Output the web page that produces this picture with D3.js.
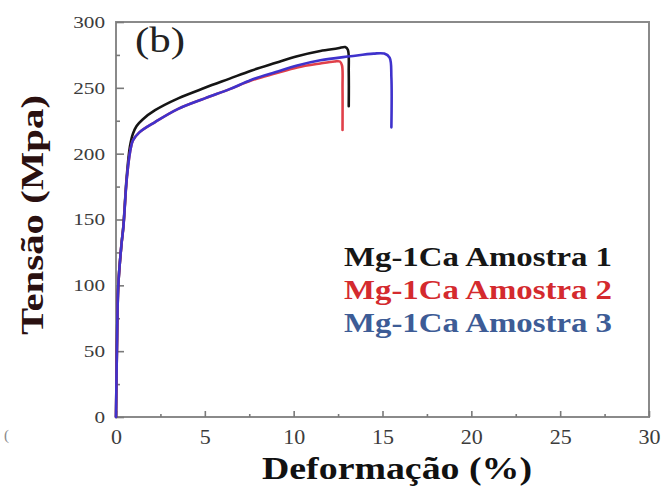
<!DOCTYPE html>
<html>
<head>
<meta charset="utf-8">
<script src="https://cdn.jsdelivr.net/npm/d3@7/dist/d3.min.js"></script>
<style>
  html, body { margin: 0; padding: 0; background: #fff; }
  svg { display: block; }
</style>
</head>
<body>
<svg id="chart" width="664" height="500"></svg>
<script>
// Tensile curves of three Mg-1Ca samples: strain (%) vs stress (MPa)
const strain1 = [0, 0.05, 0.13, 0.3, 0.42, 0.6, 0.78, 0.95, 1.16, 1.5, 2.2, 3.5, 5, 6.4, 7.6, 9, 10.2, 11.5, 12.5, 12.9, 13.05, 13.1, 13.1];
const stress1 = [0, 50, 100, 130, 146, 182, 205, 215, 221, 226, 233, 242, 250, 257, 263, 269, 274, 278, 280, 281, 279, 262, 236];

const strain2 = [0, 0.05, 0.13, 0.3, 0.42, 0.6, 0.8, 0.95, 1.3, 2.2, 3.5, 5, 6.4, 7.6, 9, 10.2, 11.5, 12.3, 12.6, 12.72, 12.75, 12.75];
const stress2 = [0, 50, 100, 130, 145, 180, 202, 210, 216, 224, 234, 242, 249, 255.5, 261, 265.5, 268.5, 270, 270, 267, 250, 218];

const strain3 = [0, 0.05, 0.13, 0.3, 0.42, 0.6, 0.8, 0.95, 1.3, 2.2, 3.5, 5, 6.4, 7.6, 9, 10.2, 11.5, 13.2, 14.5, 15.1, 15.4, 15.5, 15.5];
const stress3 = [0, 50, 100, 130, 145, 180, 202, 210, 216, 224, 234, 242, 249, 256, 262, 267, 271, 274, 276, 276, 273, 258, 220];

const seriesNames = ["Mg-1Ca Amostra 1", "Mg-1Ca Amostra 2", "Mg-1Ca Amostra 3"];
const lineColors = ["#151515", "#e0404a", "#3f32cc"];
const legendColors = ["#161616", "#d42a2e", "#3d5c96"];

const xTicks = [0, 5, 10, 15, 20, 25, 30];
const xMinorTicks = [2.5, 7.5, 12.5, 17.5, 22.5, 27.5];
const yTicks = [0, 50, 100, 150, 200, 250, 300];
const yMinorTicks = [25, 75, 125, 175, 225, 275];

// pick a Times-metric serif face that is actually installed
function pickSerif() {
  const ctx = document.createElement("canvas").getContext("2d");
  const probe = "Mg-1Ca Amostra Deformação 0123456789";
  const widthOf = f => { ctx.font = "40px " + f; return ctx.measureText(probe).width; };
  const candidates = ["Liberation Serif", "Times New Roman", "Tinos", "Times", "Nimbus Roman", "FreeSerif"];
  for (const c of candidates) {
    const w = widthOf(`"${c}", monospace`);
    if (Math.abs(w - widthOf("monospace")) > 1) return `"${c}", serif`;
  }
  return "serif";
}
const serif = pickSerif();

const svg = d3.select("#chart").style("font-family", serif);
const plot = { left: 116, right: 649, top: 22, bottom: 417 };

const x = d3.scaleLinear().domain([0, 30]).range([plot.left, plot.right]);
const y = d3.scaleLinear().domain([0, 300]).range([plot.bottom, plot.top]);

const axisColor = "#7a7a7a";
const labelColor = "#3c3c3c";

// frame
svg.append("rect")
  .attr("x", plot.left).attr("y", plot.top)
  .attr("width", plot.right - plot.left).attr("height", plot.bottom - plot.top)
  .attr("fill", "none").attr("stroke", "#8a8a8a").attr("stroke-width", 2);

function styleAxis(g, size) {
  g.select(".domain").remove();
  g.selectAll(".tick line").attr("stroke", axisColor).attr("stroke-width", 1.6);
  g.selectAll(".tick text")
    .attr("fill", labelColor)
    .style("font-family", serif)
    .style("font-size", size + "px");
}

// y axis (ticks pointing inward), labels set a little wide
svg.append("g").attr("transform", `translate(${plot.left},0)`)
  .call(d3.axisLeft(y).tickValues(yTicks).tickSize(-8).tickPadding(11).tickFormat(d3.format("d")))
  .call(g => styleAxis(g, 17))
  .call(g => g.selectAll(".tick text")
    .attr("textLength", d => String(d).length * 10.6)
    .attr("lengthAdjust", "spacingAndGlyphs"));
svg.append("g").attr("transform", `translate(${plot.left},0)`)
  .call(d3.axisLeft(y).tickValues(yMinorTicks).tickSize(-4).tickFormat(""))
  .call(g => styleAxis(g, 17));

// x axis (ticks pointing inward)
svg.append("g").attr("transform", `translate(0,${plot.bottom})`)
  .call(d3.axisBottom(x).tickValues(xTicks).tickSize(-6).tickPadding(11).tickFormat(d3.format("d")))
  .call(g => styleAxis(g, 22));
svg.append("g").attr("transform", `translate(0,${plot.bottom})`)
  .call(d3.axisBottom(x).tickValues(xMinorTicks).tickSize(-3).tickFormat(""))
  .call(g => styleAxis(g, 22));

// curves
const line = d3.line()
  .x(d => x(d[0]))
  .y(d => y(d[1]))
  .curve(d3.curveCatmullRom.alpha(0.5));

const series = [
  d3.zip(strain1, stress1),
  d3.zip(strain2, stress2),
  d3.zip(strain3, stress3)
];
const drawOrder = [0, 1, 2];
svg.append("g").selectAll("path")
  .data(drawOrder)
  .join("path")
  .attr("d", i => line(series[i]))
  .attr("fill", "none")
  .attr("stroke", i => lineColors[i])
  .attr("stroke-width", 2.6)
  .attr("stroke-linejoin", "round")
  .attr("stroke-linecap", "round");

// panel tag
svg.append("text")
  .attr("x", 135).attr("y", 52)
  .attr("fill", "#222")
  .attr("textLength", 50)
  .attr("lengthAdjust", "spacingAndGlyphs")
  .style("font-size", "35px")
  .text("(b)");

// legend
svg.append("g").selectAll("text")
  .data(seriesNames)
  .join("text")
  .attr("x", 344)
  .attr("y", (d, i) => 266 + i * 33)
  .attr("fill", (d, i) => legendColors[i])
  .attr("font-weight", "bold")
  .attr("textLength", 268)
  .attr("lengthAdjust", "spacingAndGlyphs")
  .style("font-size", "27px")
  .text(d => d);

// axis titles
svg.append("text")
  .attr("x", 262).attr("y", 479)
  .attr("fill", "#111")
  .attr("font-weight", "bold")
  .attr("textLength", 270)
  .attr("lengthAdjust", "spacingAndGlyphs")
  .style("font-size", "32px")
  .text("Deformação (%)");

svg.append("text")
  .attr("transform", "translate(43,335) rotate(-90)")
  .attr("fill", "#2a1010")
  .attr("font-weight", "bold")
  .attr("textLength", 240)
  .attr("lengthAdjust", "spacingAndGlyphs")
  .style("font-size", "32px")
  .text("Tensão (Mpa)");

// small stray mark at the lower left
svg.append("text")
  .attr("x", 4).attr("y", 440)
  .attr("fill", "#8a8a8a")
  .style("font-size", "15px")
  .text("(");
</script>
</body>
</html>
